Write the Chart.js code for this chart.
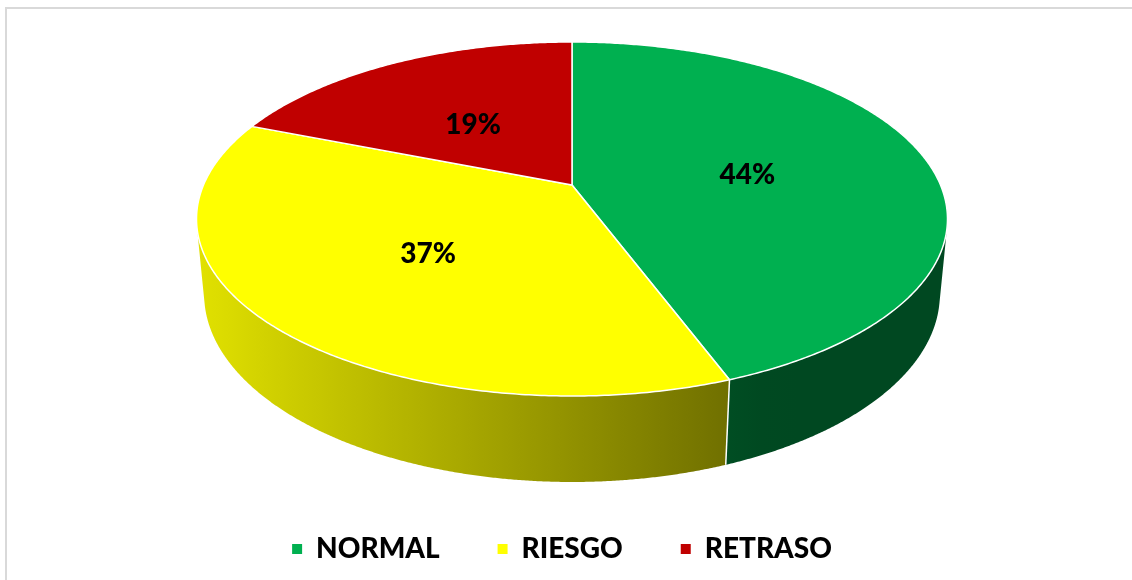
<!DOCTYPE html>
<html><head><meta charset="utf-8">
<script src="https://cdn.jsdelivr.net/npm/chart.js@4.4.1/dist/chart.umd.min.js"></script>
<style>
html,body{margin:0;padding:0;background:#fff;}
#wrap{position:relative;width:1132px;height:580px;overflow:hidden;background:#fff;}
#frame{position:absolute;left:5px;top:7px;width:1300px;height:700px;border-top:2px solid #D9D9D9;border-left:2px solid #D9D9D9;}
canvas{position:absolute;left:0;top:0;}
</style></head><body>
<div id="wrap"><div id="frame"></div><canvas id="c" width="1132" height="580"></canvas></div>
<script>
// ---- data ----
const categories = ['NORMAL', 'RIESGO', 'RETRASO'];
const percentages = [44.3, 36.7, 19.0];
const sliceColors = ['#00B050', '#FFFF00', '#C00000'];

// ---- 3D projection settings (style only) ----
const P = {x0: 572, y0: 185, a: 368.5, b: 170.5, p: 0.192, q: 0.02, c: 75.4};
function proj(theta, k, h) {
  const u = k * Math.cos(theta), v = -k * Math.sin(theta);
  const w = 1 + P.p * v + P.q * h;
  return [P.x0 + P.a * u / w, P.y0 + (-P.b * v + P.c * h) / w];
}
function hexRgb(h) { const n = parseInt(h.slice(1), 16); return [(n >> 16) & 255, (n >> 8) & 255, n & 255]; }
function shadeAt(x) { return Math.max(0.41, 0.87 - 0.00083 * (x - 210)); }
function quadArea(p) {
  let s = 0;
  for (let i = 0; i < p.length; i++) { const a = p[i], b = p[(i + 1) % p.length]; s += a[0] * b[1] - b[0] * a[1]; }
  return s / 2;
}

const pie3d = {
  id: 'pie3d',
  beforeDatasetsDraw(chart) {
    const ctx = chart.ctx;
    const arcs = chart.getDatasetMeta(0).data;
    const ds = chart.data.datasets[0];
    ctx.save();
    // side walls: only front-facing strips, one path per slice
    arcs.forEach((arc, i) => {
      const s = arc.startAngle, e = arc.endAngle;
      const rgb = hexRgb(ds.backgroundColor[i]);
      const x1 = P.x0 - P.a * 1.03, x2 = P.x0 + P.a * 1.03;
      const g = ctx.createLinearGradient(x1, 0, x2, 0);
      for (let t = 0; t <= 20; t++) {
        const x = x1 + (x2 - x1) * t / 20;
        const f = shadeAt(x);
        g.addColorStop(t / 20, `rgb(${Math.round(rgb[0]*f)},${Math.round(rgb[1]*f)},${Math.round(rgb[2]*f)})`);
      }
      const n = Math.max(4, Math.ceil((e - s) / (Math.PI / 720)));
      ctx.beginPath();
      let any = false;
      for (let j = 0; j < n; j++) {
        const a = s + (e - s) * j / n, b = s + (e - s) * (j + 1) / n;
        const q = [proj(a, 1, 0), proj(b, 1, 0), proj(b, 1, 1), proj(a, 1, 1)];
        if (quadArea(q) > 0) continue; // back-facing
        any = true;
        ctx.moveTo(q[0][0], q[0][1]);
        ctx.lineTo(q[1][0], q[1][1]);
        ctx.lineTo(q[2][0], q[2][1]);
        ctx.lineTo(q[3][0], q[3][1]);
        ctx.closePath();
      }
      if (any) { ctx.fillStyle = g; ctx.fill('nonzero'); }
    });
    // seams on visible side
    arcs.forEach(arc => {
      const s = arc.startAngle;
      if (-Math.sin(s) < -0.2) {
        const t = proj(s, 1, 0), b = proj(s, 1, 1);
        ctx.beginPath(); ctx.moveTo(t[0], t[1]); ctx.lineTo(b[0], b[1]);
        ctx.strokeStyle = '#fff'; ctx.lineWidth = 1.5; ctx.stroke();
      }
    });
    // top faces
    arcs.forEach((arc, i) => {
      const s = arc.startAngle, e = arc.endAngle;
      const n = Math.max(4, Math.ceil((e - s) / (Math.PI / 360)));
      const c = proj(0, 0, 0);
      ctx.beginPath();
      ctx.moveTo(c[0], c[1]);
      for (let j = 0; j <= n; j++) { const pt = proj(s + (e - s) * j / n, 1, 0); ctx.lineTo(pt[0], pt[1]); }
      ctx.closePath();
      ctx.fillStyle = ds.backgroundColor[i];
      ctx.fill();
      ctx.strokeStyle = '#fff'; ctx.lineWidth = 1.5; ctx.lineJoin = 'round';
      ctx.stroke();
    });
    // labels
    const total = ds.data.reduce((a, b) => a + b, 0);
    ctx.font = '900 28px Lato';
    ctx.fillStyle = '#000';
    ctx.textAlign = 'center';
    ctx.textBaseline = 'middle';
    arcs.forEach((arc, i) => {
      const mid = (arc.startAngle + arc.endAngle) / 2;
      const pt = proj(mid, 0.5, 0);
      ctx.fillText(Math.round(ds.data[i] / total * 100) + '%', pt[0] - 3, pt[1] + 5);
    });
    ctx.restore();
    return false;
  }
};

new Chart(document.getElementById('c'), {
  type: 'pie',
  data: {
    labels: categories,
    datasets: [{data: percentages, backgroundColor: sliceColors, borderWidth: 0}]
  },
  options: {
    responsive: false,
    animation: false,
    events: [],
    layout: {padding: {bottom: 7, right: 8}},
    plugins: {
      tooltip: {enabled: false},
      legend: {
        position: 'bottom',
        labels: {boxWidth: 10, boxHeight: 10, padding: 58, color: '#000',
                 font: {family: 'Lato', size: 28, weight: 900}}
      }
    }
  },
  plugins: [pie3d]
});
</script>
</body></html>
